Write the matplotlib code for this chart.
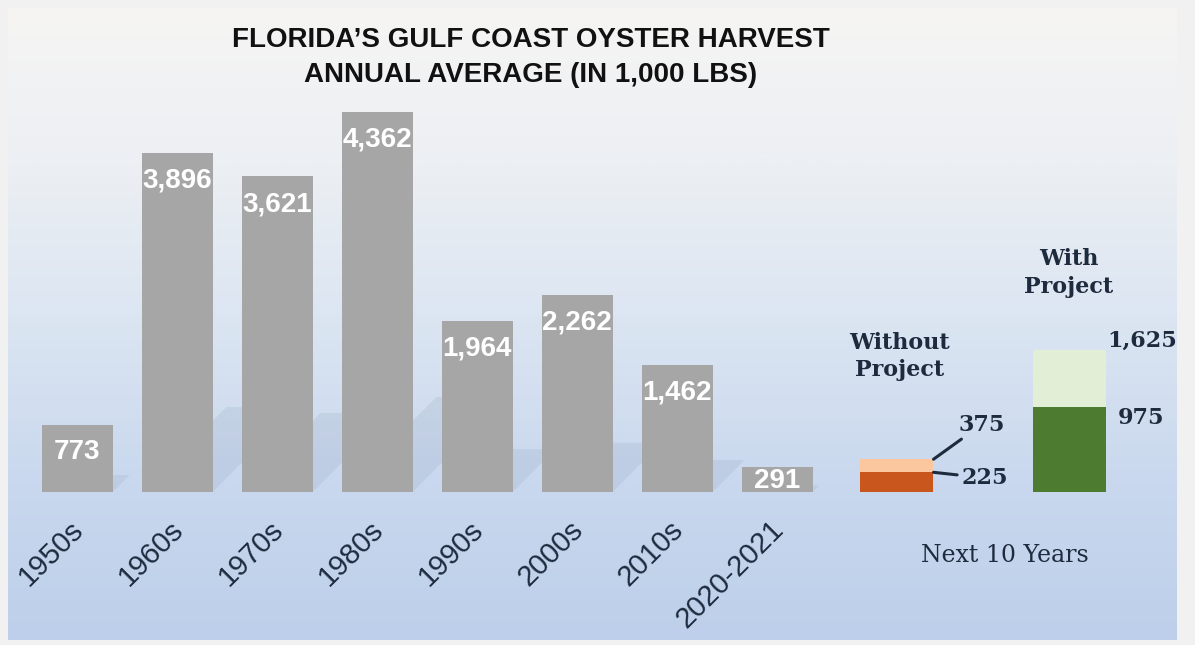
"""
Florida Gulf Coast oyster harvest - annual average by decade,
plus the 10-year outlook with and without the project.
"""

import numpy as np
import matplotlib.pyplot as plt
from matplotlib.colors import LinearSegmentedColormap
from matplotlib.patches import Polygon

# --- data -------------------------------------------------------------
decades = ['1950s', '1960s', '1970s', '1980s', '1990s', '2000s', '2010s', '2020-2021']
harvest = [773, 3896, 3621, 4362, 1964, 2262, 1462, 291]

without_project = [225, 375]    # low, high estimate
with_project = [975, 1625]      # low, high estimate

# --- style ------------------------------------------------------------
NAVY = '#1e2a3d'
BAR_GRAY = '#a6a6a6'
ORANGE_DARK = '#c9561c'
ORANGE_LIGHT = '#fbc79f'
GREEN_DARK = '#4d7c31'
GREEN_LIGHT = '#e2efd6'
SANS = 'Liberation Sans'

W, H = 1195, 645
fig = plt.figure(figsize=(W / 100, H / 100), dpi=100, facecolor='#f1f1f1')

# axes covers the slide area (pixel box 8..1177 x 5..637)
ax = fig.add_axes([8 / W, 5 / H, 1169 / W, 632 / H])
ax.set_xlim(-0.69, 11.0)
ax.set_ylim(-1700, 5555)
ax.axis('off')

# background: pale top fading into light blue at the bottom
bg = LinearSegmentedColormap.from_list(
    'bg', ['#bdcfea', '#c9d8ee', '#dbe5f2', '#eceff3', '#f6f5f3'])
grad = np.linspace(0, 1, 256).reshape(-1, 1)
ax.imshow(grad, cmap=bg, aspect='auto', origin='lower',
          extent=[-0.69, 11.0, -1700, 5555], zorder=0)

# pixel size of one data unit, used to skew the bar shadows
px_per_x = 1169 / 11.69
px_per_y = 632 / 7255

x = np.arange(len(decades))
bw = 0.71

# soft diagonal shadows behind the decade bars
for xi, v in zip(x, harvest):
    rise = 0.25 * v
    dx = rise * px_per_y / px_per_x
    xl, xr = xi - bw / 2, xi + bw / 2
    ax.add_patch(Polygon([(xl, 0), (xr, 0), (xr + dx, rise), (xl + dx, rise)],
                         closed=True, facecolor='#8797b3', alpha=0.17,
                         edgecolor='none', zorder=1))

ax.bar(x, harvest, width=bw, color=BAR_GRAY, zorder=2)
for xi, v in zip(x, harvest):
    # label sits near the top; short bars get it centred instead
    off = min(20, v * px_per_y / 2 * 0.72 + 1)
    ax.annotate(f'{v:,}', (xi, v), xytext=(0, -off), textcoords='offset points',
                ha='center', va='center', color='white', fontsize=20,
                fontweight='bold', family=SANS, zorder=3)
    ax.text(xi + 0.02, -385, decades[xi], rotation=45, rotation_mode='anchor',
            ha='right', va='center', fontsize=21, color=NAVY,
            family=SANS, zorder=3)

# --- outlook bars -----------------------------------------------------
xo = [8.2, 9.92]
ob = 0.73
ax.bar(xo[0], without_project[1], width=ob, color=ORANGE_LIGHT, zorder=2)
ax.bar(xo[0], without_project[0], width=ob, color=ORANGE_DARK, zorder=2)
ax.bar(xo[1], with_project[1], width=ob, color=GREEN_LIGHT, zorder=2)
ax.bar(xo[1], with_project[0], width=ob, color=GREEN_DARK, zorder=2)

lab = dict(color=NAVY, fontsize=16, fontweight='bold', family='DejaVu Serif',
           zorder=3)
line = dict(arrowstyle='-', color=NAVY, lw=2.2, shrinkA=1, shrinkB=0)

ax.annotate(f'{without_project[1]:,}', (xo[0] + ob / 2, without_project[1]),
            xytext=(18, 25), textcoords='offset points', ha='left',
            va='center', arrowprops=line, **lab)
ax.annotate(f'{without_project[0]:,}', (xo[0] + ob / 2, without_project[0]),
            xytext=(20, -4), textcoords='offset points', ha='left',
            va='center', arrowprops=line, **lab)
ax.annotate(f'{with_project[1]:,}', (xo[1] + ob / 2, with_project[1]),
            xytext=(1, 7), textcoords='offset points', ha='left',
            va='center', **lab)
ax.annotate(f'{with_project[0]:,}', (xo[1] + ob / 2, with_project[0]),
            xytext=(9, -8), textcoords='offset points', ha='left',
            va='center', **lab)

ax.annotate('Without\nProject', (xo[0], without_project[1]), xytext=(2, 56),
            textcoords='offset points', ha='center', va='bottom',
            linespacing=1.35, **lab)
ax.annotate('With\nProject', (xo[1], with_project[1]), xytext=(0, 38),
            textcoords='offset points', ha='center', va='bottom',
            linespacing=1.35, **lab)

ax.text(9.28, -735, 'Next 10 Years', ha='center', va='center',
        color=NAVY, fontsize=17, family='DejaVu Serif', zorder=3)

# --- title ------------------------------------------------------------
tkw = dict(ha='center', va='center', fontweight='bold', family=SANS,
           color='#111111', fontsize=20)
fig.text(531 / W, 1 - 40 / H, 'FLORIDA\u2019S GULF COAST OYSTER HARVEST', **tkw)
fig.text(531 / W, 1 - 75 / H, 'ANNUAL AVERAGE (IN 1,000 LBS)', **tkw)

fig.savefig('out.png', dpi=100, facecolor=fig.get_facecolor())
